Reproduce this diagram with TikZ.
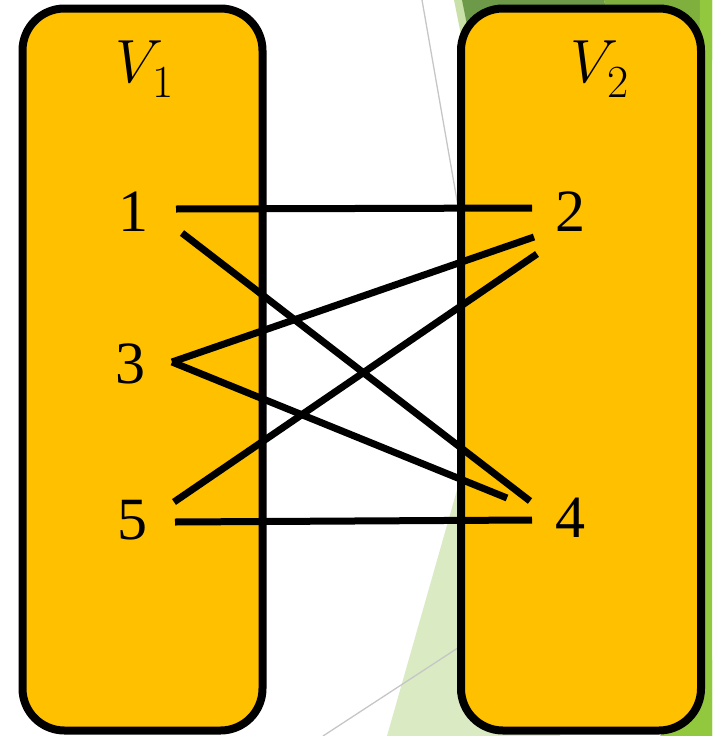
\RequirePackage{fix-cm}
\documentclass[tikz,border=0pt]{standalone}
\usepackage{fontspec}
\setmainfont{Liberation Serif}
\DeclareMathSizes{61}{61}{46}{33}
\definecolor{gold}{HTML}{FFC000}
\definecolor{lightgreen}{HTML}{DAEAC2}
\definecolor{palegreen}{HTML}{C9E0A8}
\definecolor{darkgreen}{HTML}{6D9A48}
\definecolor{midgreen}{HTML}{7FAF3C}
\definecolor{brightgreen}{HTML}{92C83E}
\definecolor{thingray}{HTML}{C6C6C6}
\tikzset{
  setbox/.style={draw=black, fill=gold, line width=8pt, rounded corners=42pt,
    minimum width=240pt, minimum height=722pt, inner sep=0pt},
  vert/.style={inner sep=0pt, font=\fontsize{60}{60}\selectfont},
  setlabel/.style={inner sep=0pt, anchor=base west, font=\fontsize{61}{61}\selectfont},
  edge/.style={draw=black, line width=7pt, line cap=butt},
  bgline/.style={draw=thingray, line width=1.3pt}
}
\begin{document}
\begin{tikzpicture}[x=1pt, y=-1pt]
\useasboundingbox (0,0) rectangle (712,736);
% background decoration
\fill[lightgreen] (387,736) -- (494,360) -- (560,360) -- (560,736) -- cycle;
\fill[palegreen] (454,0) -- (463,0) -- (475,60) -- (466,60) -- cycle;
\fill[darkgreen] (462,0) -- (604,0) -- (620,60) -- (474,60) -- cycle;
\fill[midgreen] (604,0) -- (712,0) -- (712,60) -- (620,60) -- cycle;
\fill[brightgreen] (700,0) -- (712,0) -- (712,736) -- (690,736) -- cycle;
\fill[brightgreen] (660,736) -- (712,660) -- (712,736) -- cycle;
\draw[bgline] (422,0) -- (470,275);
\draw[bgline] (323,736) -- (470,640);
% set boxes
\node[setbox] (box1) at (142.5,369.5) {};
\node[setbox] (box2) at (581,369.5) {};
% set labels
\node[setlabel] (lab1) at (115,82) {$V_{\kern2pt\lower6pt\hbox{$\scriptstyle 1$}}$};
\node[setlabel] (lab2) at (570,82) {$V_{\kern2pt\lower6pt\hbox{$\scriptstyle 2$}}$};
% vertices
\node[vert] (n1) at (133,212) {1};
\node[vert] (n3) at (130,364) {3};
\node[vert] (n5) at (132,520) {5};
\node[vert] (n2) at (570,212) {2};
\node[vert] (n4) at (570,518) {4};
% edges
\draw[edge] ([shift={(43,-3)}]n1.center) -- ([shift={(-38,-4)}]n2.center);
\draw[edge] ([shift={(49,21)}]n1.center) -- ([shift={(-40,-17)}]n4.center);
\draw[edge] ([shift={(42,-2)}]n3.center) -- ([shift={(-36,25)}]n2.center);
\draw[edge] ([shift={(42,-2)}]n3.center) -- ([shift={(-63,-20)}]n4.center);
\draw[edge] ([shift={(42,-18)}]n5.center) -- ([shift={(-33,42)}]n2.center);
\draw[edge] ([shift={(43,2)}]n5.center) -- ([shift={(-38,2)}]n4.center);
\end{tikzpicture}
\end{document}
